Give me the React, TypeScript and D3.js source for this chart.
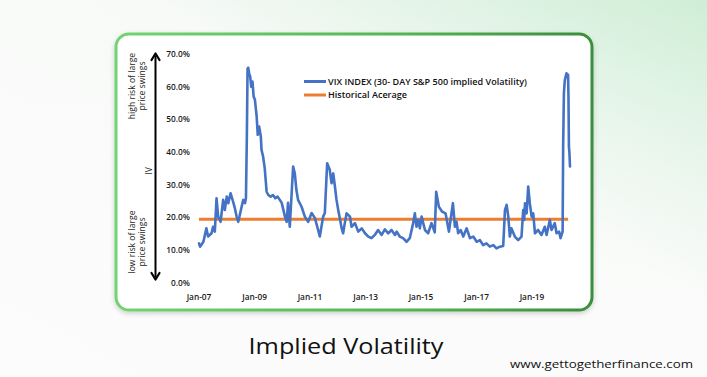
import React from "react";
import * as d3 from "d3";

const vixDates: string[] = [
  "2007-01-01","2007-01-15","2007-02-28","2007-04-08","2007-05-01","2007-06-15","2007-07-05","2007-07-28","2007-08-20","2007-09-10",
  "2007-10-12","2007-11-15","2007-12-07","2008-01-01","2008-01-21","2008-02-21","2008-03-18","2008-04-18","2008-05-10","2008-06-01",
  "2008-07-15","2008-08-06","2008-08-28","2008-09-10","2008-09-22","2008-10-01","2008-10-10","2008-10-22","2008-11-05","2008-11-18",
  "2008-12-05","2008-12-20","2009-01-06","2009-01-29","2009-02-12","2009-03-03","2009-03-25","2009-04-03","2009-04-24","2009-05-15",
  "2009-06-09","2009-07-01","2009-08-01","2009-09-01","2009-10-01","2009-11-01","2009-12-25","2010-02-05","2010-02-28","2010-03-18",
  "2010-04-10","2010-05-24","2010-06-15","2010-07-06","2010-07-28","2010-09-12","2010-10-25","2010-12-08","2011-01-22","2011-03-06",
  "2011-04-18","2011-05-10","2011-06-23","2011-07-15","2011-08-15","2011-09-18","2011-10-12","2011-11-03","2011-11-25","2011-12-16",
  "2012-01-10","2012-02-01","2012-02-22","2012-03-12","2012-04-03","2012-04-27","2012-06-10","2012-07-01","2012-08-15","2012-09-27",
  "2012-11-12","2012-12-25","2013-02-06","2013-03-21","2013-05-03","2013-06-15","2013-08-01","2013-09-12","2013-10-27","2013-12-09",
  "2014-01-24","2014-02-15","2014-03-27","2014-05-10","2014-06-25","2014-08-06","2014-09-20","2014-10-12","2014-11-03","2014-11-25",
  "2014-12-17","2015-01-09","2015-02-22","2015-04-05","2015-05-19","2015-07-01","2015-07-20","2015-08-24","2015-10-06","2015-11-20",
  "2016-01-04","2016-01-25","2016-02-25","2016-03-22","2016-04-13","2016-05-04","2016-06-06","2016-07-10","2016-08-24","2016-10-06",
  "2016-11-19","2017-01-03","2017-02-15","2017-03-28","2017-05-12","2017-06-25","2017-08-08","2017-09-21","2017-11-05","2017-12-18",
  "2018-01-10","2018-02-01","2018-02-23","2018-03-15","2018-04-06","2018-05-20","2018-07-03","2018-08-16","2018-09-07","2018-09-20",
  "2018-10-01","2018-10-22","2018-11-12","2018-12-03","2018-12-27","2019-01-17","2019-02-09","2019-03-22","2019-05-06","2019-06-18",
  "2019-07-12","2019-08-24","2019-09-15","2019-10-28","2019-11-20","2019-12-24","2020-01-12","2020-02-08","2020-02-15","2020-02-20",
  "2020-02-25","2020-03-08","2020-03-30","2020-04-20","2020-04-25","2020-05-01","2020-05-08","2020-05-15",
];

const vixValues: number[] = [
  12.1, 11.1, 12.6, 16.7, 14.2, 15.2, 17.2, 15.7, 25.9, 20.3,
  18.7, 25.4, 22.3, 26.4, 24.4, 27.4, 25.4, 22.8, 20.3, 18.7,
  23.3, 25.4, 24.4, 26.0, 45.0, 65.5, 65.8, 64.1, 63.1, 60.0,
  61.6, 57.0, 56.0, 50.9, 45.3, 47.8, 44.7, 40.7, 38.6, 35.1,
  27.9, 26.9, 26.4, 26.9, 25.9, 26.4, 24.5, 20.3, 18.7, 24.5,
  17.2, 35.6, 33.5, 28.4, 25.4, 23.3, 20.3, 18.7, 21.4, 19.9,
  16.2, 14.2, 20.3, 21.4, 36.6, 34.6, 30.5, 33.5, 29.5, 25.4,
  22.0, 19.3, 16.7, 15.2, 18.3, 21.3, 20.3, 17.2, 18.3, 15.7,
  16.7, 15.2, 14.2, 13.7, 14.7, 16.2, 14.7, 16.4, 15.2, 16.2,
  14.7, 15.7, 14.2, 13.7, 12.6, 13.7, 18.3, 21.3, 17.2, 19.3,
  16.7, 20.3, 16.2, 15.2, 18.3, 15.5, 27.9, 23.3, 21.8, 21.3,
  15.7, 19.3, 24.4, 17.2, 18.7, 15.2, 16.2, 14.2, 16.7, 13.7,
  14.2, 12.6, 13.1, 11.6, 12.1, 11.1, 11.6, 10.6, 11.1, 11.3,
  22.3, 23.9, 20.3, 14.2, 16.7, 14.2, 13.1, 14.2, 22.3, 19.3,
  24.4, 21.3, 29.5, 24.4, 20.3, 21.3, 15.2, 16.2, 14.7, 17.2,
  14.7, 19.3, 16.2, 18.3, 15.2, 15.7, 13.7, 15.7, 41.7, 50.0,
  58.0, 62.0, 64.1, 63.6, 57.0, 41.7, 39.6, 35.6,
];

const historicalAverage = 19.5;
const averageSpan: string[] = ["2007-01-01", "2020-04-20"];

const yTicks: number[] = [0, 10, 20, 30, 40, 50, 60, 70];
const xTickYears: number[] = [2007, 2009, 2011, 2013, 2015, 2017, 2019];

const legendLabels: string[] = [
  "VIX INDEX (30- DAY S&P 500 implied Volatility)",
  "Historical Acerage",
];
const highLabel: string[] = ["high risk of large", "price swings"];
const lowLabel: string[] = ["low risk of large", "price swings"];
const title = "Implied Volatility";
const website = "www.gettogetherfinance.com";

const FONT = "'Open Sans', 'Noto Sans', sans-serif";

export default function App() {
  const parse = d3.timeParse("%Y-%m-%d");
  const x = d3
    .scaleTime()
    .domain([new Date(2007, 0, 1), new Date(2019, 0, 1)])
    .range([199, 532]);
  const y = d3.scaleLinear().domain([0, 70]).range([283, 54]);

  const series = vixDates.map((d, i) => ({ date: parse(d) as Date, v: vixValues[i] }));
  const line = d3
    .line<{ date: Date; v: number }>()
    .x((d) => x(d.date))
    .y((d) => y(d.v))
    .curve(d3.curveLinear);

  const avgLine = d3
    .line<Date>()
    .x((d) => x(d))
    .y(() => y(historicalAverage));
  const avgDates = averageSpan.map((d) => parse(d) as Date);

  const fmtPct = d3.format(".1f");
  const fmtDate = d3.timeFormat("%b-%y");

  return (
    <svg
      width={707}
      height={377}
      style={{ position: "absolute", left: 0, top: 0, display: "block" }}
      fontFamily={FONT}
    >
      <defs>
        <linearGradient id="bg" x1="0" y1="1" x2="1" y2="0">
          <stop offset="0" stopColor="#fbfbfb" />
          <stop offset="0.6" stopColor="#f8faf8" />
          <stop offset="1" stopColor="#cfeed6" />
        </linearGradient>
        <linearGradient id="bgTop" x1="0" y1="0" x2="0" y2="1">
          <stop offset="0" stopColor="#ffffff" stopOpacity="0" />
          <stop offset="1" stopColor="#ffffff" stopOpacity="0.3" />
        </linearGradient>
        <linearGradient id="border" x1="0" y1="0" x2="1" y2="0">
          <stop offset="0" stopColor="#72d46f" />
          <stop offset="0.6" stopColor="#55b553" />
          <stop offset="1" stopColor="#3a8e3b" />
        </linearGradient>
        <filter id="shadow" x="-10%" y="-10%" width="120%" height="125%">
          <feDropShadow dx="0" dy="2" stdDeviation="2.5" floodColor="#000" floodOpacity="0.18" />
        </filter>
      </defs>

      <rect x={0} y={0} width={707} height={377} fill="url(#bg)" />
      <rect x={0} y={0} width={707} height={377} fill="url(#bgTop)" />

      {/* card */}
      <rect
        x={116}
        y={34}
        width={476}
        height={276}
        rx={13}
        fill="#ffffff"
        stroke="url(#border)"
        strokeWidth={3}
        filter="url(#shadow)"
      />

      {/* arrows */}
      <line x1={155.5} x2={155.5} y1={56} y2={277} stroke="#000" strokeWidth={2} />
      <path d="M151.5,60 L155.5,53.5 L159.5,60" fill="none" stroke="#000" strokeWidth={2.2} strokeLinecap="round" strokeLinejoin="round" />
      <path d="M151.5,273 L155.5,279.5 L159.5,273" fill="none" stroke="#000" strokeWidth={2.2} strokeLinecap="round" strokeLinejoin="round" />

      {/* rotated labels */}
      {highLabel.map((t, i) => (
        <text
          key={"h" + i}
          transform={`translate(${135 + i * 9.5},86) rotate(-90)`}
          textAnchor="middle"
          fontSize={8.6}
          fill="#222"
        >
          {t}
        </text>
      ))}
      <text transform="translate(152,171) rotate(-90)" textAnchor="middle" fontSize={8.6} fill="#222">
        IV
      </text>
      {lowLabel.map((t, i) => (
        <text
          key={"l" + i}
          transform={`translate(${135 + i * 9.5},242) rotate(-90)`}
          textAnchor="middle"
          fontSize={8.6}
          fill="#222"
        >
          {t}
        </text>
      ))}

      {/* y ticks */}
      {yTicks.map((t) => (
        <text
          key={"y" + t}
          x={190}
          y={y(t)}
          dy="0.35em"
          textAnchor="end"
          fontSize={8.3}
          fontWeight={600}
          fill="#1a1a1a"
        >
          {fmtPct(t)}%
        </text>
      ))}

      {/* x ticks */}
      {xTickYears.map((yr) => {
        const d = new Date(yr, 0, 1);
        return (
          <text
            key={"x" + yr}
            x={x(d)}
            y={300}
            textAnchor="middle"
            fontSize={8.3}
            fontWeight={600}
            fill="#1a1a1a"
          >
            {fmtDate(d)}
          </text>
        );
      })}

      {/* average line */}
      <path d={avgLine(avgDates) || ""} fill="none" stroke="#ED7D31" strokeWidth={3} />

      {/* VIX line */}
      <path
        d={line(series) || ""}
        fill="none"
        stroke="#4472C4"
        strokeWidth={2.6}
        strokeLinejoin="round"
        strokeLinecap="round"
      />

      {/* legend */}
      <line x1={304} x2={326} y1={81.5} y2={81.5} stroke="#4472C4" strokeWidth={3} />
      <text x={328} y={84.5} fontSize={8.5} fontWeight={600} fill="#111" textLength={199} lengthAdjust="spacingAndGlyphs">
        {legendLabels[0]}
      </text>
      <line x1={304} x2={326} y1={95} y2={95} stroke="#ED7D31" strokeWidth={3} />
      <text x={328} y={98} fontSize={8.5} fontWeight={600} fill="#111" textLength={79} lengthAdjust="spacingAndGlyphs">
        {legendLabels[1]}
      </text>

      {/* title */}
      <text x={346} y={354} textAnchor="middle" fontSize={21} fontWeight={500} fill="#111" textLength={195} lengthAdjust="spacingAndGlyphs">
        {title}
      </text>
      <text x={510} y={368} fontSize={11} fontWeight={500} fill="#111" textLength={183} lengthAdjust="spacingAndGlyphs">
        {website}
      </text>
    </svg>
  );
}
